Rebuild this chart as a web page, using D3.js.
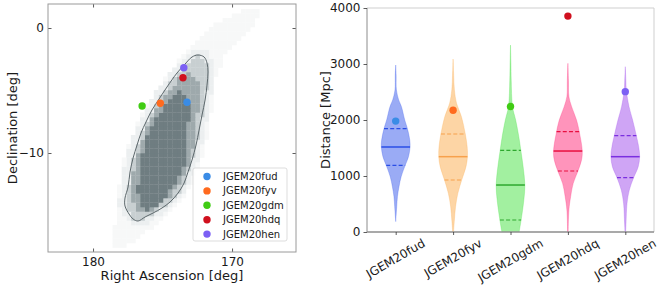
<!DOCTYPE html>
<html>
<head>
<meta charset="utf-8">
<script src="https://cdn.jsdelivr.net/npm/d3@7"></script>
<style>
  body { margin: 0; background: #fff; }
  text { font-family: "DejaVu Sans", sans-serif; fill: #1a1a1a; }
</style>
</head>
<body>
<svg id="chart" width="664" height="286"></svg>
<script>
"use strict";

// ---- data ----
const events = ["JGEM20fud", "JGEM20fyv", "JGEM20gdm", "JGEM20hdq", "JGEM20hen"];
const pointColors = ["#3a8ce6", "#ff6a1e", "#40cc14", "#d0101e", "#7c60f4"];
const violinFills = ["#3557eb", "#fbab4b", "#45e141", "#ff2977", "#9f4beb"];
const violinLines = ["#2a4ee6", "#f7a14c", "#2ea82e", "#e81040", "#7a2ee0"];

// event positions on the sky (RA, Dec in deg)
const eventRA = [173.24, 175.16, 176.47, 173.53, 173.47];
const eventDec = [-5.94, -6.02, -6.24, -3.98, -3.18];
// event distances (Mpc)
const eventDist = [1980, 2175, 2240, 3855, 2506];

// violin summary lines
const medians = [1518, 1345, 839, 1446, 1345];
const upperQuart = [1845, 1750, 1458, 1792, 1720];
const lowerQuart = [1190, 929, 214, 1089, 970];

// violin profiles: [distance, width relative to widest]
const fudProfile = [[2982,0],[2800,0.03],[2536,0.05],[2357,0.21],[2238,0.4],[2000,0.63],[1851,0.81],[1643,0.98],[1518,1],[1345,0.89],[1190,0.66],[988,0.38],[810,0.23],[631,0.12],[452,0.07],[300,0.03],[185,0]];
const fyvProfile = [[3089,0],[2800,0.04],[2536,0.09],[2298,0.24],[2060,0.58],[1750,0.85],[1524,0.98],[1345,1],[1167,0.9],[929,0.6],[690,0.33],[452,0.17],[214,0.09],[0,0.03]];
const gdmProfile = [[3339,0],[3000,0.03],[2714,0.05],[2238,0.14],[2000,0.36],[1702,0.58],[1458,0.72],[1167,0.88],[839,1],[571,0.93],[214,0.74],[0,0.6],[-200,0.45]];
const hdqProfile = [[3012,0],[2700,0.04],[2417,0.07],[2238,0.26],[2000,0.6],[1792,0.79],[1446,1],[1286,0.95],[1089,0.7],[869,0.37],[631,0.19],[393,0.07],[0,0.02]];
const henProfile = [[2952,0],[2700,0.04],[2536,0.07],[2238,0.26],[2000,0.51],[1720,0.77],[1524,0.93],[1345,1],[1167,0.9],[970,0.58],[750,0.28],[512,0.12],[155,0.05],[0,0.02]];
const profiles = [fudProfile, fyvProfile, gdmProfile, hdqProfile, henProfile];

// sky map: nested density levels (RA, Dec), outermost first
const haloOuter = [[173.02,-1.36],[171.22,0.24],[169.06,1.60],[167.84,1.44],[168.71,-0.16],[170.50,-2.16],[171.22,-4.16],[171.44,-6.56],[171.87,-8.96],[172.30,-10.96],[172.88,-12.56],[173.60,-13.76],[174.46,-14.80],[175.54,-15.76],[176.62,-16.56],[177.48,-17.36],[178.42,-17.76],[178.63,-16.96],[178.42,-15.76],[178.20,-13.76],[178.06,-11.76],[177.70,-10.16],[177.19,-8.56],[176.62,-7.20],[175.90,-5.76],[175.04,-4.32],[174.10,-2.96]];
const haloInner = [[172.52,-1.60],[171.73,-1.92],[171.44,-2.72],[171.37,-3.76],[171.51,-5.36],[171.73,-6.96],[172.01,-8.56],[172.30,-9.92],[172.66,-11.20],[173.02,-12.32],[173.53,-13.28],[174.17,-14.16],[174.89,-14.80],[175.76,-15.36],[176.62,-15.92],[177.19,-15.76],[177.70,-15.20],[178.13,-14.16],[178.06,-12.96],[177.84,-11.52],[177.55,-10.16],[177.19,-8.96],[176.83,-7.84],[176.40,-6.88],[175.90,-5.84],[175.32,-4.88],[174.60,-3.76],[173.74,-2.72],[173.02,-1.92]];
const contour90 = [[172.45,-2.16],[172.01,-2.32],[171.80,-2.80],[171.73,-3.52],[171.80,-4.56],[171.94,-5.76],[172.16,-6.96],[172.37,-8.16],[172.59,-9.36],[172.88,-10.56],[173.17,-11.52],[173.45,-12.40],[173.88,-13.20],[174.46,-13.92],[175.04,-14.40],[175.68,-14.80],[176.26,-15.12],[176.76,-15.44],[177.12,-15.28],[177.41,-14.88],[177.70,-14.24],[177.70,-13.60],[177.48,-12.72],[177.34,-11.52],[177.12,-10.40],[176.83,-9.36],[176.55,-8.40],[176.19,-7.52],[175.76,-6.56],[175.25,-5.68],[174.68,-4.72],[173.96,-3.60],[173.38,-2.88],[172.88,-2.32]];
const midLevel = [[173.02,-3.52],[172.52,-4.16],[172.37,-5.36],[172.52,-6.96],[172.66,-8.56],[172.88,-10.16],[173.24,-11.36],[173.74,-12.48],[174.46,-13.44],[175.32,-14.24],[176.04,-14.72],[176.62,-14.88],[177.05,-14.40],[177.27,-13.44],[177.19,-12.16],[177.05,-10.96],[176.76,-9.76],[176.40,-8.64],[175.90,-7.36],[175.32,-6.24],[174.60,-5.12],[173.81,-4.00]];
const coreLevel = [[173.74,-4.96],[173.31,-5.36],[173.09,-6.56],[173.17,-7.76],[173.24,-8.96],[173.38,-10.56],[173.74,-11.76],[174.32,-12.80],[175.04,-13.76],[175.68,-14.40],[176.19,-14.68],[176.62,-14.16],[176.83,-13.20],[176.76,-12.00],[176.69,-10.80],[176.40,-9.60],[176.04,-8.40],[175.54,-7.36],[175.04,-6.40],[174.46,-5.60]];
const levels = [haloOuter, haloInner, contour90, midLevel, coreLevel];
const levelColors = ["#ffffff", "#f7f8f8", "#eceff0", "#c8cfd1", "#9ea9ac", "#6f7d81"];

const raTicks = [180, 170];
const decTicks = [0, -10];
const distTicks = [0, 1000, 2000, 3000, 4000];

// ---- layout ----
const skyBox = {left: 48, right: 296, top: 4, bottom: 252};
const violBox = {left: 367, right: 654, top: 8, bottom: 232};
const binRA = 0.33, binDec = 0.36;

const svg = d3.select("#chart");

// ================= left panel: sky map =================
const xSky = d3.scaleLinear().domain([183.24, 165.4]).range([skyBox.left, skyBox.right]);
const ySky = d3.scaleLinear().domain([1.92, -17.92]).range([skyBox.top, skyBox.bottom]);

const sky = svg.append("g");
sky.append("clipPath").attr("id", "skyclip")
    .append("rect")
    .attr("x", skyBox.left).attr("y", skyBox.top)
    .attr("width", skyBox.right - skyBox.left).attr("height", skyBox.bottom - skyBox.top);

// histogram cells
const cells = [];
for (let ra = 165.4; ra < 183.3; ra += binRA) {
    for (let dec = -17.92; dec < 2; dec += binDec) {
        const c = [ra + binRA / 2, dec + binDec / 2];
        let lvl = 0;
        levels.forEach(poly => { if (d3.polygonContains(poly, c)) lvl++; });
        if (lvl > 0) cells.push({ra: ra, dec: dec, lvl: lvl});
    }
}
sky.append("g").attr("clip-path", "url(#skyclip)")
    .selectAll("rect").data(cells).join("rect")
    .attr("x", d => xSky(d.ra + binRA))
    .attr("y", d => ySky(d.dec + binDec))
    .attr("width", d => xSky(d.ra) - xSky(d.ra + binRA) + 0.3)
    .attr("height", d => ySky(d.dec) - ySky(d.dec + binDec) + 0.3)
    .attr("fill", d => levelColors[d.lvl]);

// contour line
sky.append("path")
    .datum(contour90)
    .attr("d", d3.line().x(d => xSky(d[0])).y(d => ySky(d[1])).curve(d3.curveCatmullRomClosed))
    .attr("fill", "none")
    .attr("stroke", "#5c676b")
    .attr("stroke-width", 1);

// event points
sky.selectAll("circle.ev").data(events).join("circle")
    .attr("class", "ev")
    .attr("cx", (d, i) => xSky(eventRA[i]))
    .attr("cy", (d, i) => ySky(eventDec[i]))
    .attr("r", 3.7)
    .attr("fill", (d, i) => pointColors[i]);

// axes with inward ticks
function styleAxis(g) {
    g.select(".domain").remove();
    g.selectAll("line").attr("stroke", "#333").attr("stroke-width", 0.8);
    g.selectAll("text").style("font-size", "12px").attr("fill", "#1a1a1a");
}
sky.append("g").attr("transform", `translate(0,${skyBox.bottom})`)
    .call(d3.axisBottom(xSky).tickValues(raTicks).tickSize(-3.5).tickPadding(5)).call(styleAxis);
sky.append("g").attr("transform", `translate(0,${skyBox.top})`)
    .call(d3.axisTop(xSky).tickValues(raTicks).tickSize(-3.5).tickFormat("")).call(styleAxis);
sky.append("g").attr("transform", `translate(${skyBox.left},0)`)
    .call(d3.axisLeft(ySky).tickValues(decTicks).tickSize(-3.5).tickPadding(4)).call(styleAxis);
sky.append("g").attr("transform", `translate(${skyBox.right},0)`)
    .call(d3.axisRight(ySky).tickValues(decTicks).tickSize(-3.5).tickFormat("")).call(styleAxis);

sky.append("rect")
    .attr("x", skyBox.left).attr("y", skyBox.top)
    .attr("width", skyBox.right - skyBox.left).attr("height", skyBox.bottom - skyBox.top)
    .attr("fill", "none").attr("stroke", "#9a9a9a").attr("stroke-width", 1);

sky.append("text")
    .attr("x", (skyBox.left + skyBox.right) / 2).attr("y", 280)
    .attr("text-anchor", "middle").style("font-size", "13px")
    .text("Right Ascension [deg]");
sky.append("text")
    .attr("transform", `translate(17,${(skyBox.top + skyBox.bottom) / 2}) rotate(-90)`)
    .attr("text-anchor", "middle").style("font-size", "13px")
    .text("Declination [deg]");

// legend
const legend = sky.append("g");
legend.append("rect")
    .attr("x", 193).attr("y", 168).attr("width", 94).attr("height", 73)
    .attr("rx", 2)
    .attr("fill", "#fff").attr("fill-opacity", 0.85)
    .attr("stroke", "#d4d4d4").attr("stroke-width", 0.8);
const legendRows = legend.selectAll("g.row").data(events).join("g")
    .attr("class", "row")
    .attr("transform", (d, i) => `translate(207,${176.5 + i * 14.4})`);
legendRows.append("circle").attr("r", 3.7).attr("fill", (d, i) => pointColors[i]);
legendRows.append("text")
    .attr("x", 16).attr("dy", "0.35em")
    .style("font-size", "10px")
    .text(d => d);

// ================= right panel: violins =================
const xV = d3.scaleLinear().domain([0.5, 5.5]).range([violBox.left, violBox.right]);
const yV = d3.scaleLinear().domain([0, 4000]).range([violBox.bottom, violBox.top]);
const halfMax = 0.25 * (xV(1) - xV(0));

const viol = svg.append("g");
viol.append("clipPath").attr("id", "violclip")
    .append("rect")
    .attr("x", violBox.left).attr("y", violBox.top)
    .attr("width", violBox.right - violBox.left).attr("height", violBox.bottom - violBox.top);

function widthAt(profile, d) {
    for (let k = 0; k < profile.length - 1; k++) {
        const a = profile[k], b = profile[k + 1];
        if (d <= a[0] && d >= b[0]) {
            const t = (a[0] - d) / (a[0] - b[0]);
            return a[1] + t * (b[1] - a[1]);
        }
    }
    return 0;
}

const plotArea = viol.append("g").attr("clip-path", "url(#violclip)");

events.forEach((ev, i) => {
    const cx = xV(i + 1);
    const prof = profiles[i];
    const area = d3.area()
        .y(p => yV(p[0]))
        .x0(p => cx - p[1] * halfMax)
        .x1(p => cx + p[1] * halfMax)
        .curve(d3.curveCatmullRom);
    plotArea.append("path")
        .datum(prof)
        .attr("d", area)
        .attr("fill", violinFills[i])
        .attr("fill-opacity", 0.5)
        .attr("stroke", violinFills[i])
        .attr("stroke-opacity", 0.35)
        .attr("stroke-width", 0.8);

    // median
    const wm = widthAt(prof, medians[i]) * halfMax;
    plotArea.append("line")
        .attr("x1", cx - wm).attr("x2", cx + wm)
        .attr("y1", yV(medians[i])).attr("y2", yV(medians[i]))
        .attr("stroke", violinLines[i]).attr("stroke-width", 1.5);
    // quartiles
    [upperQuart[i], lowerQuart[i]].forEach(q => {
        const wq = widthAt(prof, q) * halfMax;
        plotArea.append("line")
            .attr("x1", cx - wq).attr("x2", cx + wq)
            .attr("y1", yV(q)).attr("y2", yV(q))
            .attr("stroke", violinLines[i]).attr("stroke-width", 1.2)
            .attr("stroke-dasharray", "4,2.2");
    });
});

plotArea.selectAll("circle.dist").data(events).join("circle")
    .attr("class", "dist")
    .attr("cx", (d, i) => xV(i + 1))
    .attr("cy", (d, i) => yV(eventDist[i]))
    .attr("r", 3.7)
    .attr("fill", (d, i) => pointColors[i]);

// spines
viol.append("line").attr("x1", violBox.left).attr("x2", violBox.right)
    .attr("y1", violBox.top).attr("y2", violBox.top).attr("stroke", "#cfcfcf");
viol.append("line").attr("x1", violBox.right).attr("x2", violBox.right)
    .attr("y1", violBox.top).attr("y2", violBox.bottom).attr("stroke", "#cfcfcf");
viol.append("line").attr("x1", violBox.left).attr("x2", violBox.left)
    .attr("y1", violBox.top).attr("y2", violBox.bottom).attr("stroke", "#8c8c8c");
viol.append("line").attr("x1", violBox.left).attr("x2", violBox.right)
    .attr("y1", violBox.bottom).attr("y2", violBox.bottom).attr("stroke", "#8c8c8c").attr("stroke-width", 1.3);

viol.append("g").attr("transform", `translate(${violBox.left},0)`)
    .call(d3.axisLeft(yV).tickValues(distTicks).tickSize(3.5).tickPadding(3).tickFormat(d3.format("d")))
    .call(styleAxis);

viol.append("g").attr("transform", `translate(0,${violBox.bottom})`)
    .call(d3.axisBottom(xV).tickValues([1, 2, 3, 4, 5]).tickSize(3).tickFormat(""))
    .call(styleAxis);

// rotated category labels, bbox centred under each tick
events.forEach((ev, i) => {
    const t = viol.append("text")
        .attr("text-anchor", "middle")
        .attr("dominant-baseline", "central")
        .style("font-size", "12px")
        .text(ev);
    const w = t.node().getComputedTextLength();
    const h = w * Math.sin(Math.PI / 6) + 12 * Math.cos(Math.PI / 6);
    t.attr("transform", `translate(${xV(i + 1)},${violBox.bottom + 5 + h / 2}) rotate(-30)`);
});

viol.append("text")
    .attr("transform", `translate(330,${(violBox.top + violBox.bottom) / 2}) rotate(-90)`)
    .attr("text-anchor", "middle").style("font-size", "13px")
    .text("Distance [Mpc]");
</script>
</body>
</html>
